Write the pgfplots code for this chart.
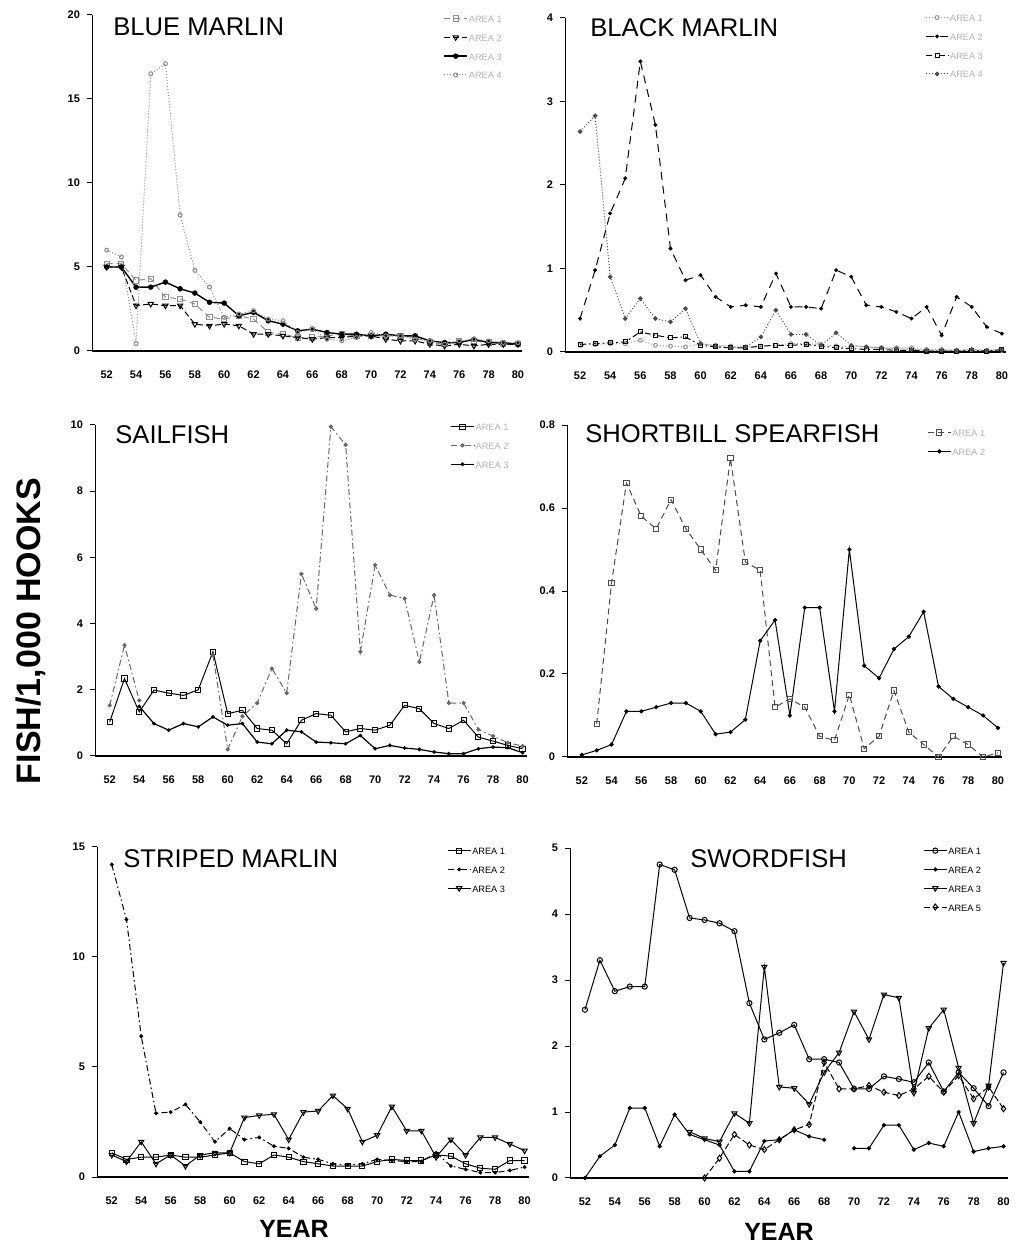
\documentclass[border=0pt]{standalone}
\usepackage{fontspec}
\setmainfont{Liberation Sans}
\usepackage{pgfplots}
\usepackage{pgfplotstable}
\pgfplotsset{compat=1.18}

% ---- data ----
\pgfplotstableread{
year a1 a2 a3 a4
52 5.2 5.0 5.0 6.0
53 5.2 5.0 5.0 5.6
54 4.2 2.7 3.8 0.45
55 4.3 2.8 3.8 16.5
56 3.2 2.7 4.1 17.1
57 3.1 2.7 3.7 8.1
58 2.8 1.6 3.45 4.8
59 2.0 1.5 2.9 3.8
60 1.9 1.6 2.85 2.0
61 2.1 1.5 2.1 2.2
62 1.9 1.0 2.3 2.4
63 1.1 1.0 1.8 1.9
64 1.0 0.9 1.6 1.8
65 0.8 0.8 1.2 1.1
66 0.8 0.7 1.3 1.3
67 0.9 0.8 1.1 0.7
68 1.0 0.8 1.0 0.6
69 0.9 0.9 1.0 0.8
70 0.9 0.9 0.9 1.1
71 0.9 0.7 1.0 0.9
72 0.9 0.6 0.9 0.9
73 0.8 0.6 0.9 0.7
74 0.5 0.4 0.6 0.6
75 0.4 0.3 0.5 0.4
76 0.6 0.4 0.5 0.6
77 0.6 0.3 0.7 0.7
78 0.5 0.4 0.5 0.6
79 0.4 0.4 0.5 0.5
80 0.4 0.4 0.4 0.5
}\bluemarlin

\pgfplotstableread{
year a1 a2 a3 a4
52 0.08 0.40 0.09 2.64
53 0.09 0.98 0.10 2.83
54 0.10 1.66 0.11 0.90
55 0.10 2.08 0.12 0.40
56 0.14 3.48 0.24 0.64
57 0.08 2.72 0.20 0.40
58 0.07 1.24 0.17 0.36
59 0.06 0.86 0.18 0.52
60 0.10 0.92 0.08 0.10
61 0.08 0.66 0.06 0.07
62 0.07 0.54 0.05 0.05
63 0.06 0.56 0.05 0.06
64 0.07 0.54 0.07 0.18
65 0.08 0.94 0.08 0.50
66 0.10 0.54 0.08 0.21
67 0.10 0.54 0.09 0.21
68 0.09 0.52 0.07 0.08
69 0.07 0.98 0.05 0.23
70 0.06 0.90 0.04 0.08
71 0.06 0.56 0.03 0.06
72 0.05 0.54 0.03 0.05
73 0.05 0.48 0.02 0.04
74 0.05 0.40 0.02 0.03
75 0.03 0.54 0.01 0.02
76 0.03 0.20 0.01 0.02
77 0.02 0.66 0.01 0.02
78 0.02 0.54 0.02 0.03
79 0.02 0.30 0.01 0.02
80 0.02 0.22 0.03 0.03
}\blackmarlin

\pgfplotstableread{
year a1 a2 a3
52 1.03 1.53 nan
53 2.34 3.35 nan
54 1.33 1.68 1.50
55 1.99 nan 0.98
56 1.90 nan 0.78
57 1.83 nan 0.98
58 2.00 nan 0.88
59 3.15 3.05 1.18
60 1.28 0.20 0.93
61 1.38 1.20 0.98
62 0.83 1.60 0.42
63 0.78 2.64 0.37
64 0.37 1.90 0.78
65 1.08 5.50 0.73
66 1.28 4.45 0.42
67 1.23 9.95 0.40
68 0.73 9.40 0.37
69 0.83 3.15 0.62
70 0.78 5.77 0.22
71 0.93 4.86 0.32
72 1.53 4.76 0.24
73 1.43 2.84 0.20
74 0.98 4.86 0.12
75 0.83 1.60 0.07
76 1.08 1.60 0.07
77 0.57 0.80 0.22
78 0.45 0.60 0.27
79 0.32 0.40 0.25
80 0.22 0.30 0.10
}\sailfish

\pgfplotstableread{
year a1 a2
52 nan 0.005
53 0.08 0.016
54 0.42 0.03
55 0.66 0.11
56 0.58 0.11
57 0.55 0.12
58 0.62 0.13
59 0.55 0.13
60 0.50 0.11
61 0.45 0.055
62 0.72 0.06
63 0.47 0.09
64 0.45 0.28
65 0.12 0.33
66 0.14 0.10
67 0.12 0.36
68 0.05 0.36
69 0.04 0.11
70 0.15 0.50
71 0.02 0.22
72 0.05 0.19
73 0.16 0.26
74 0.06 0.29
75 0.03 0.35
76 0.00 0.17
77 0.05 0.14
78 0.03 0.12
79 0.00 0.10
80 0.01 0.07
}\spearfish

\pgfplotstableread{
year a1 a2 a3
52 1.1 14.2 1.0
53 0.8 11.7 0.7
54 0.9 6.4 1.6
55 0.9 2.9 0.6
56 1.0 2.95 1.0
57 0.9 3.3 0.5
58 0.9 2.5 1.0
59 1.0 1.6 1.1
60 1.1 2.2 1.1
61 0.7 1.7 2.7
62 0.6 1.8 2.8
63 1.0 1.4 2.85
64 0.9 1.3 1.7
65 0.7 0.9 2.95
66 0.6 0.8 3.0
67 0.5 0.6 3.7
68 0.5 0.55 3.1
69 0.5 0.6 1.6
70 0.7 0.8 1.9
71 0.8 0.75 3.2
72 0.75 0.7 2.1
73 0.75 0.7 2.1
74 1.0 1.1 0.9
75 0.95 0.5 1.7
76 0.6 0.35 1.0
77 0.4 0.2 1.8
78 0.35 0.2 1.8
79 0.75 0.3 1.5
80 0.75 0.45 1.2
}\striped

\pgfplotstableread{
year a1 a2 a3 a5
52 2.55 0.00 nan nan
53 3.30 0.33 nan nan
54 2.83 0.50 nan nan
55 2.90 1.06 nan nan
56 2.90 1.06 nan nan
57 4.75 0.48 nan nan
58 4.67 0.96 nan nan
59 3.94 0.66 0.70 nan
60 3.91 0.58 0.60 0.00
61 3.86 0.50 0.55 0.30
62 3.74 0.10 0.98 0.66
63 2.65 0.10 0.83 0.50
64 2.10 0.56 3.20 0.43
65 2.20 0.58 1.38 0.58
66 2.32 0.73 1.36 0.73
67 1.80 0.63 1.12 0.81
68 1.80 0.58 1.60 1.75
69 1.75 nan 1.90 1.35
70 1.35 0.45 2.52 1.35
71 1.35 0.45 2.10 1.40
72 1.54 0.80 2.78 1.30
73 1.50 0.80 2.73 1.25
74 1.45 0.43 1.29 1.35
75 1.75 0.53 2.27 1.54
76 1.31 0.48 2.55 1.30
77 1.60 1.00 1.67 1.55
78 1.36 0.40 0.83 1.20
79 1.09 0.45 1.40 1.38
80 1.60 0.48 3.26 1.05
}\swordfish

\pgfplotsset{
  panel/.style={
    scale only axis,
    anchor=south west,
    xmin=51, xmax=80.3, ymin=0,
    xtick={52,54,...,80},
    axis x line*=bottom, axis y line*=left,
    x axis line style={line width=1.3pt, -},
    y axis line style={line width=0.5pt, -},
    major tick length=2.5pt,
    tick align=outside,
    xtick style={draw=none},
    ytick style={black, line width=0.5pt},
    ticklabel style={font=\fontsize{5.5}{6}\selectfont\bfseries},
    xticklabel style={yshift=-4pt},
    /pgf/number format/assume math mode=true,
    unbounded coords=jump,
    legend cell align=left,
    legend style={draw=none, fill=none, anchor=north west, inner sep=0pt,
      font=\fontsize{4.6}{5}\selectfont, row sep=4.2pt,
      nodes={inner sep=0.6pt, text height=4pt, text depth=0pt}},
    legend image code/.code={
      \draw[mark repeat=2, mark phase=2] plot coordinates {(0cm,0cm) (0.2cm,0cm) (0.4cm,0cm)};},
  },
  faintleg/.style={legend style={text=black!30}},
  sq/.style={black, line width=0.5pt, mark=square, mark size=1.3pt, mark options={solid, fill=white}},
  dot/.style={black, line width=0.5pt, mark=*, mark size=1.0pt, mark options={solid}},
  tri/.style={black, line width=0.5pt, mark=triangle, mark size=1.5pt, mark options={solid, rotate=180}},
  circ/.style={black, line width=0.5pt, mark=o, mark size=1.3pt, mark options={solid}},
  dia/.style={black, line width=0.5pt, mark=diamond, mark size=1.5pt, mark options={solid}},
}

\begin{document}
\begin{tikzpicture}
\path[use as bounding box] (0pt,0pt) rectangle (509pt,626.5pt);

% ---------------- BLUE MARLIN ----------------
\begin{axis}[panel, faintleg, at={(46pt,451pt)}, width=215.2pt, height=168pt,
  ymax=20, ytick={0,5,10,15,20},
  legend style={at={(axis description cs:0.816,1.006)}}]
\addplot[sq, black!45, densely dashed] table[x=year, y=a1]{\bluemarlin};
\addplot[tri, dash pattern=on 3pt off 1.5pt] table[x=year, y=a2]{\bluemarlin};
\addplot[dot, line width=0.7pt] table[x=year, y=a3]{\bluemarlin};
\addplot[circ, black!45, densely dotted, mark size=1pt] table[x=year, y=a4]{\bluemarlin};
\legend{AREA 1, AREA 2, AREA 3, AREA 4}
\end{axis}

% ---------------- BLACK MARLIN ----------------
\begin{axis}[panel, faintleg, at={(282.5pt,450.5pt)}, width=220.7pt, height=167pt,
  ymax=4, ytick={0,1,2,3,4},
  legend style={at={(axis description cs:0.815,1.018)}}]
\addplot[circ, black!40, densely dotted, mark size=1pt] table[x=year, y=a1]{\blackmarlin};
\addplot[dot, dash pattern=on 4pt off 3pt, mark size=0.7pt] table[x=year, y=a2]{\blackmarlin};
\addplot[sq, dash pattern=on 3pt off 1.5pt on 0.8pt off 1.5pt, mark size=1pt] table[x=year, y=a3]{\blackmarlin};
\addplot[dot, black!70, densely dotted, mark size=0.9pt] table[x=year, y=a4]{\blackmarlin};
\legend{AREA 1, AREA 2, AREA 3, AREA 4}
\end{axis}

% ---------------- SAILFISH ----------------
\begin{axis}[panel, faintleg, at={(47.5pt,248.5pt)}, width=216pt, height=165.5pt,
  ymax=10, ytick={0,2,4,6,8,10},
  legend style={at={(axis description cs:0.822,1.012)}}]
\addplot[sq] table[x=year, y=a1]{\sailfish};
\addplot[dot, black!60, dash pattern=on 3pt off 1.5pt on 0.8pt off 1.5pt, mark size=0.8pt] table[x=year, y=a2]{\sailfish};
\addplot[dot, line width=0.6pt, mark size=0.6pt] table[x=year, y=a3]{\sailfish};
\legend{AREA 1, AREA 2, AREA 3}
\end{axis}

% ---------------- SHORTBILL SPEARFISH ----------------
\begin{axis}[panel, faintleg, at={(283.5pt,248pt)}, width=217.7pt, height=166pt,
  ymax=0.8, ytick={0,0.2,0.4,0.6,0.8}, yticklabels={0,0.2,0.4,0.6,0.8},
  legend style={at={(axis description cs:0.827,0.994)}}]
\addplot[sq, black!70, dash pattern=on 3pt off 2pt] table[x=year, y=a1]{\spearfish};
\addplot[dot, mark size=0.8pt] table[x=year, y=a2]{\spearfish};
\legend{AREA 1, AREA 2}
\end{axis}

% ---------------- STRIPED MARLIN ----------------
\begin{axis}[panel, at={(48.5pt,38pt)}, width=216pt, height=165pt,
  ymax=15, ytick={0,5,10,15},
  legend style={at={(axis description cs:0.81,1.006)}}]
\addplot[sq] table[x=year, y=a1]{\striped};
\addplot[dot, dash pattern=on 3pt off 1.5pt on 0.8pt off 1.5pt, mark size=0.7pt] table[x=year, y=a2]{\striped};
\addplot[tri] table[x=year, y=a3]{\striped};
\legend{AREA 1, AREA 2, AREA 3}
\end{axis}

% ---------------- SWORDFISH ----------------
\begin{axis}[panel, at={(285pt,37.5pt)}, width=219pt, height=165pt,
  ymax=5, ytick={0,1,2,3,4,5},
  legend style={at={(axis description cs:0.806,1.009)}}]
\addplot[circ] table[x=year, y=a1]{\swordfish};
\addplot[dot, mark size=0.8pt] table[x=year, y=a2]{\swordfish};
\addplot[tri] table[x=year, y=a3]{\swordfish};
\addplot[dia, dash pattern=on 3pt off 1.5pt] table[x=year, y=a5]{\swordfish};
\legend{AREA 1, AREA 2, AREA 3, AREA 5}
\end{axis}

% ---------------- titles and axis labels ----------------
\begin{scope}[every node/.style={anchor=base west, inner sep=0pt, font=\fontsize{12.8}{14}\selectfont}]
\node at (56.5pt,608.5pt) {BLUE MARLIN};
\node at (295pt,608pt) {BLACK MARLIN};
\node at (57.5pt,404.5pt) {SAILFISH};
\node at (292.5pt,405pt) {SHORTBILL SPEARFISH};
\node at (61.5pt,192.5pt) {STRIPED MARLIN};
\node at (345pt,192.5pt) {SWORDFISH};
\end{scope}
\node[rotate=90, font=\fontsize{17}{19}\selectfont\bfseries, inner sep=0pt] at (15.5pt,311pt) {FISH/1,000 HOOKS};
\node[font=\fontsize{12.5}{14}\selectfont\bfseries, inner sep=0pt] at (147pt,12pt) {YEAR};
\node[font=\fontsize{12.5}{14}\selectfont\bfseries, inner sep=0pt] at (389.5pt,10.5pt) {YEAR};
\end{tikzpicture}
\end{document}
